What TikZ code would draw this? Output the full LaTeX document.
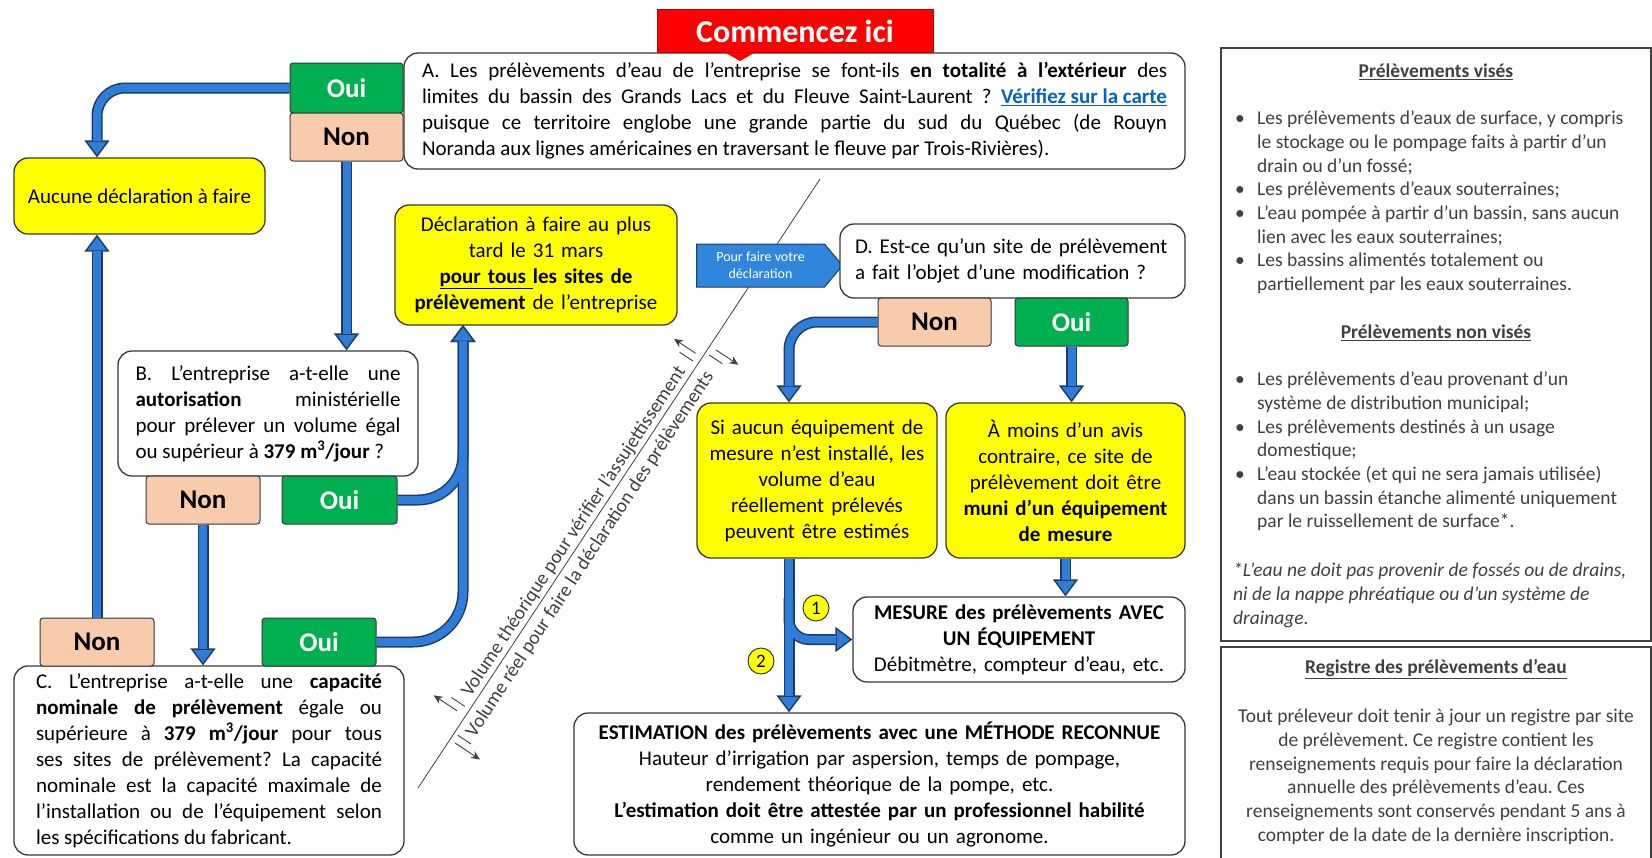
\documentclass[tikz,border=0pt]{standalone}
\usepackage{fontspec}
\setmainfont{Carlito}
\usetikzlibrary{arrows.meta,shapes.symbols,calc}
\definecolor{ylw}{HTML}{FFFF00}
\definecolor{grn}{HTML}{00B050}
\definecolor{pch}{HTML}{F8CBAD}
\definecolor{arrblue}{HTML}{2E7DD7}
\definecolor{sigblue}{HTML}{2F86DA}
\definecolor{arrdark}{HTML}{1F3A68}
\definecolor{bord}{HTML}{383838}
\definecolor{redA}{HTML}{FF0000}
\definecolor{redB}{HTML}{C00000}
\definecolor{lnk}{HTML}{0563C1}
\definecolor{gtxt}{HTML}{404040}
\frenchspacing
\newcommand\lnktxt[1]{\textcolor{lnk}{\bfseries\underline{#1}}}
\newcommand\bul{\makebox[22pt][l]{•}}
\newcommand\ind{\hspace*{22pt}}
\newcommand\flowpaths[1]{%
 \draw[#1, rounded corners=28pt] (ouiA.west) -| (nonC.north |- auc.north);
 \draw[#1] (nonA.south) -- (nonA.south |- B.north);
 \draw[#1] (nonB.south) -- (nonB.south |- C.north);
 \draw[#1] (nonC.north) -- (nonC.north |- auc.south);
 \draw[#1, rounded corners=50pt] (ouiC.east) -| (decin);
 \draw[#1, rounded corners=45pt] (ouiB.east) -| (decin);
 \draw[#1, rounded corners=28pt] (nonD.west) -| (sxa |- sia.north);
 \draw[#1] (ouiD.south) -- (ouiD.south |- amo.north);
 \draw[#1] (amo.south) -- (amo.south |- mes.north);
 \draw[#1] (sxa |- sia.south) -- (sxa |- est.north);
 \draw[#1, rounded corners=20pt] (sxa |- brk) |- (mes.west);
}
\begin{document}
\begin{tikzpicture}[x=1pt,y=-1pt,
  box/.style={draw=bord, line width=1.3pt, rounded corners=14pt, fill=white,
    font=\fontsize{21}{26}\selectfont, inner sep=0pt},
  ybox/.style={box, fill=ylw},
  ouibox/.style={draw=bord, line width=1pt, rounded corners=3pt, fill=grn, text=white,
    font=\fontsize{27}{30}\selectfont\bfseries, inner sep=0pt},
  nonbox/.style={ouibox, fill=pch, text=black},
  fo/.style={draw=arrdark, line width=11pt,
    -{Triangle[width=25pt,length=17pt,fill=arrblue,line width=1.4pt]}},
  fi/.style={draw=arrblue, line width=8pt, shorten >=16pt},
  panel/.style={draw=gtxt, line width=1.8pt, inner sep=0pt, anchor=north west},
  ptxt/.style={text=gtxt, font=\fontsize{19.5}{23.7}\selectfont, inner sep=0pt},
  ptitle/.style={ptxt, font=\fontsize{19.5}{23.7}\selectfont\bfseries},
  num/.style={circle, draw=bord, line width=1pt, fill=ylw, minimum size=26pt, inner sep=0pt,
    font=\fontsize{19}{20}\selectfont},
  diagtxt/.style={rotate=56.55, anchor=base, text=gtxt, font=\fontsize{19.5}{22}\selectfont, inner sep=0pt},
  small/.style={-{Stealth[length=9pt,width=8pt]}, draw=gtxt, line width=0.9pt},
  tick/.style={draw=gtxt, line width=0.9pt},
]
\useasboundingbox (0,0) rectangle (1652,857);
\fill[white] (0,0) rectangle (1652,857);

% diagonal separator
\coordinate (dg0) at (418,788);
\coordinate (dg1) at (820,179);
\draw[gtxt, line width=0.8pt] (dg0) -- (dg1);
\begin{scope}[shift={(418,788)}, x={(0.551pt,0.834pt)}, y={(-0.834pt,0.551pt)}]
  \node[diagtxt] (vt) at (300,6) {Volume théorique pour vérifier l’assujettissement};
  \node[diagtxt] (vr) at (290,-20) {Volume réel pour faire la déclaration des prélèvements};
  \draw[small] (86,10) -- (86,38);
  \draw[tick] (94,6) -- (94,22);
  \draw[small] (516,8) -- (516,34);
  \draw[tick] (508,6) -- (508,22);
  \draw[small] (58,-6) -- (58,-36);
  \draw[tick] (66,-4) -- (66,-20);
  \draw[small] (530,-7) -- (530,-34);
  \draw[tick] (522,-4) -- (522,-20);
\end{scope}

% main boxes
\node[box, minimum width=781pt, minimum height=116pt, text width=745pt, align=justify] (A) at (794.5,111)
 {A. Les prélèvements d’eau de l’entreprise se font-ils \textbf{en totalité à l'extérieur} des\linebreak
  limites du bassin des Grands Lacs et du Fleuve Saint-Laurent ? \lnktxt{Vérifiez sur la carte}\linebreak
  puisque ce territoire englobe une grande partie du sud du Québec (de Rouyn\linebreak
  Noranda aux lignes américaines en traversant le fleuve par Trois-Rivières).};

\node[ybox, minimum width=251pt, minimum height=76pt] (auc) at (139.5,196) {Aucune déclaration à faire};

\node[ybox, minimum width=282pt, minimum height=120pt, text width=266pt, align=center] (dec) at (536,265)
 {Déclaration à faire au plus\\ tard le 31 mars\\ \underline{\textbf{pour tous }}\textbf{les sites de}\\ \textbf{prélèvement} de l'entreprise};
\coordinate (decin) at (463,325);

\node[signal, signal to=east, signal pointer angle=100, fill=sigblue, draw=arrdark, line width=1pt,
  minimum width=146pt, minimum height=43pt, inner sep=0pt, text=white,
  font=\fontsize{14}{17}\selectfont, align=center] (pf) at (760.5,265.5) {Pour faire votre\\déclaration};

\node[box, minimum width=345pt, minimum height=74pt, text width=315pt, align=left] (D) at (1012.5,261)
 {D. Est-ce qu'un site de prélèvement\\ a fait l'objet d'une modification ?};

\node[box, minimum width=300pt, minimum height=125pt, text width=265pt, align=justify] (B) at (268,413.5)
 {B. L'entreprise a-t-elle une\linebreak \textbf{autorisation} ministérielle\linebreak pour prélever un volume égal\linebreak ou supérieur à \textbf{379 m\textsuperscript{3}/jour} ?};

\node[box, minimum width=390pt, minimum height=189pt, text width=346pt, align=justify] (C) at (209,760.5)
 {C. L'entreprise a-t-elle une \textbf{capacité}\linebreak \textbf{nominale de prélèvement} égale ou\linebreak supérieure à \textbf{379 m\textsuperscript{3}/jour} pour tous\linebreak ses sites de prélèvement? La capacité\linebreak nominale est la capacité maximale de\linebreak l’installation ou de l’équipement selon\linebreak les spécifications du fabricant.};

\node[ybox, minimum width=240pt, minimum height=155pt, text width=232pt, align=center] (sia) at (817,480.5)
 {Si aucun équipement de\\ mesure n’est installé, les\\ volume d’eau\\ réellement prélevés\\ peuvent être estimés};
\node[ybox, minimum width=239pt, minimum height=155pt, text width=232pt, align=center] (amo) at (1065.5,480.5)
 {À moins d’un avis\\ contraire, ce site de\\ prélèvement doit être\\ \textbf{muni d'un équipement}\\ \textbf{de mesure}};

\node[box, minimum width=332pt, minimum height=85pt, text width=324pt, align=center] (mes) at (1019,639.5)
 {\textbf{MESURE des prélèvements AVEC}\\ \textbf{UN ÉQUIPEMENT}\\ Débitmètre, compteur d’eau, etc.};

\node[box, minimum width=611pt, minimum height=142pt, text width=604pt, align=center] (est) at (879.5,784)
 {\textbf{ESTIMATION des prélèvements avec une MÉTHODE RECONNUE}\\ Hauteur d'irrigation par aspersion, temps de pompage,\\ rendement théorique de la pompe, etc.\\ \textbf{L'estimation doit être attestée par un professionnel habilité}\\ comme un ingénieur ou un agronome.};

\coordinate (sxa) at (789,0);
\coordinate (brk) at (0,598);

% Oui / Non labels
\node[ouibox, minimum width=113pt, minimum height=50pt] (ouiA) at (346.5,88) {Oui};
\node[nonbox, minimum width=113pt, minimum height=48pt] (nonA) at (346.5,137) {Non};
\node[nonbox, minimum width=114pt, minimum height=48pt] (nonB) at (203,500) {Non};
\node[ouibox, minimum width=115pt, minimum height=48pt] (ouiB) at (339.5,500) {Oui};
\node[nonbox, minimum width=114pt, minimum height=48pt] (nonC) at (97,642) {Non};
\node[ouibox, minimum width=114pt, minimum height=48pt] (ouiC) at (319,642) {Oui};
\node[nonbox, minimum width=113pt, minimum height=48pt] (nonD) at (934.5,322) {Non};
\node[ouibox, minimum width=113pt, minimum height=48pt] (ouiD) at (1071.5,322) {Oui};

% connectors
\flowpaths{fo}
\flowpaths{fi}

\node[num] (n1) at (816,608) {1};
\node[num] (n2) at (761,661) {2};

% start marker
\node[fill=redA, draw=redB, line width=1pt, minimum width=276pt, minimum height=43pt, inner sep=0pt,
  text=white, font=\fontsize{32}{34}\selectfont\bfseries] (cmz) at (795,31) {Commencez ici};
\fill[redA] ($(cmz.south)+(-70,-0.5)$) -- ($(cmz.south)+(-40,-0.5)$) -- ($(cmz.south)+(-55,8)$) -- cycle;

% right panels
\node[panel, minimum width=430pt, minimum height=593pt] (p1) at (1220,47) {};
\node[panel, minimum width=430pt, minimum height=230pt] (p2) at (1220,646) {};

\node[ptitle] (t1) at (1436,72) {\underline{Prélèvements visés}};
\node[ptxt, anchor=north west, align=left] (l1) at (1235,108)
 {\strut\bul Les prélèvements d’eaux de surface, y compris\\
  \ind le stockage ou le pompage faits à partir d’un\\
  \ind drain ou d’un fossé;\\
  \bul Les prélèvements d’eaux souterraines;\\
  \bul L’eau pompée à partir d’un bassin, sans aucun\\
  \ind lien avec les eaux souterraines;\\
  \bul Les bassins alimentés totalement ou\\
  \ind partiellement par les eaux souterraines.};
\node[ptitle] (t2) at (1436,333) {\underline{Prélèvements non visés}};
\node[ptxt, anchor=north west, align=left] (l2) at (1235,369)
 {\strut\bul Les prélèvements d’eau provenant d’un\\
  \ind système de distribution municipal;\\
  \bul Les prélèvements destinés à un usage\\
  \ind domestique;\\
  \bul L’eau stockée (et qui ne sera jamais utilisée)\\
  \ind dans un bassin étanche alimenté uniquement\\
  \ind par le ruissellement de surface*.};
\node[ptxt, anchor=north west, align=left, font=\fontsize{19.5}{23.7}\selectfont\itshape] (fn) at (1233,560)
 {\strut*L’eau ne doit pas provenir de fossés ou de drains,\\ ni de la nappe phréatique ou d’un système de\\ drainage.};

\node[ptitle] (t3) at (1436,669) {\underline{Registre des prélèvements d’eau}};
\node[ptxt, anchor=north, align=center] (r1) at (1436,706)
 {\strut Tout préleveur doit tenir à jour un registre par site\\ de prélèvement. Ce registre contient les\\ renseignements requis pour faire la déclaration\\ annuelle des prélèvements d’eau. Ces\\ renseignements sont conservés pendant 5 ans à\\ compter de la date de la dernière inscription.};
\end{tikzpicture}
\end{document}
